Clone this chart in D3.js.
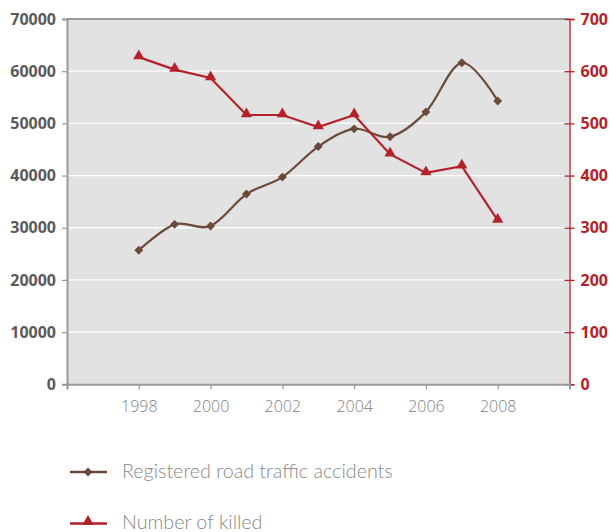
<!DOCTYPE html>
<html>
<head>
<meta charset="utf-8">
<script src="https://cdn.jsdelivr.net/npm/d3@7"></script>
<style>
  html, body { margin: 0; padding: 0; background: #fff; }
  svg { display: block; }
</style>
</head>
<body>
<svg id="chart" width="612" height="532"></svg>
<script>
// Road safety series, 1998–2008
const years = [1998, 1999, 2000, 2001, 2002, 2003, 2004, 2005, 2006, 2007, 2008];
const accidents = [25700, 30650, 30350, 36450, 39700, 45550, 48950, 47450, 52200, 61600, 54300];
const killed = [627, 603, 587, 516, 516, 493, 516, 441, 405, 418, 314];
const leftTicks = [0, 10000, 20000, 30000, 40000, 50000, 60000, 70000];
const rightTicks = [0, 100, 200, 300, 400, 500, 600, 700];
const yearTicks = [1996, 1998, 2000, 2002, 2004, 2006, 2008, 2010];
const seriesNames = ["Registered road traffic accidents", "Number of killed"];

const brown = "#6b4a3a";
const red = "#b3222b";
const svg = d3.select("#chart");

const plot = { left: 67, right: 569.5, top: 19, bottom: 384.3 };

const x = d3.scaleLinear().domain([1996, 2010]).range([plot.left, plot.right]);
const yL = d3.scaleLinear().domain([0, 70000]).range([plot.bottom, plot.top]);
const yR = d3.scaleLinear().domain([0, 700]).range([plot.bottom, plot.top]);

// plot background
svg.append("rect")
  .attr("x", plot.left).attr("y", plot.top)
  .attr("width", plot.right - plot.left).attr("height", plot.bottom - plot.top)
  .attr("fill", "#e2e2e2");

// horizontal gridlines
svg.append("g").selectAll("line")
  .data(leftTicks.filter(d => d > 0 && d < 70000))
  .join("line")
  .attr("x1", plot.left).attr("x2", plot.right)
  .attr("y1", d => yL(d)).attr("y2", d => yL(d))
  .attr("stroke", "#fff").attr("stroke-width", 1.3);

// top border
svg.append("line")
  .attr("x1", plot.left).attr("x2", plot.right)
  .attr("y1", plot.top).attr("y2", plot.top)
  .attr("stroke", "#999").attr("stroke-width", 2);

// left axis
const gL = svg.append("g").attr("transform", `translate(${plot.left},0)`)
  .call(d3.axisLeft(yL).tickValues(leftTicks).tickFormat(d3.format("d")).tickSize(5).tickPadding(6));
gL.select(".domain").attr("stroke", "#999").attr("stroke-width", 2);
gL.selectAll(".tick line").attr("stroke", "#999").attr("stroke-width", 1.2);
gL.selectAll("text")
  .attr("fill", "#5a5a5a").attr("font-family", "'Open Sans', sans-serif")
  .attr("font-weight", "bold").attr("font-size", 16);

// right axis
const gR = svg.append("g").attr("transform", `translate(${plot.right},0)`)
  .call(d3.axisRight(yR).tickValues(rightTicks).tickFormat(d3.format("d")).tickSize(5).tickPadding(6));
gR.select(".domain").attr("stroke", red).attr("stroke-width", 1.3);
gR.selectAll(".tick line").attr("stroke", red).attr("stroke-width", 1.3).attr("x1", -5);
gR.selectAll("text")
  .attr("fill", red).attr("font-family", "'Open Sans', sans-serif")
  .attr("font-weight", "bold").attr("font-size", 16);

// bottom axis
const gB = svg.append("g").attr("transform", `translate(0,${plot.bottom})`)
  .call(d3.axisBottom(x).tickValues(yearTicks).tickFormat(d3.format("d")).tickSize(5).tickPadding(11));
gB.select(".domain").attr("stroke", "#999").attr("stroke-width", 2);
gB.selectAll(".tick line").attr("stroke", "#999").attr("stroke-width", 1.2);
gB.selectAll(".tick text")
  .text(d => (d === 1996 || d === 2010) ? "" : d)
  .attr("fill", "#808080").attr("font-family", "'Open Sans', sans-serif")
  .attr("font-weight", 300).attr("font-size", 16);

// accidents line (smoothed)
const accData = years.map((yr, i) => ({ yr, v: accidents[i] }));
svg.append("path")
  .datum(accData)
  .attr("fill", "none").attr("stroke", brown).attr("stroke-width", 2.2)
  .attr("d", d3.line().x(d => x(d.yr)).y(d => yL(d.v)).curve(d3.curveCardinal.tension(0)));
// square rotated 45° gives an even diamond marker
const diamond = d3.symbol().type(d3.symbolSquare).size(40);
svg.append("g").selectAll("path")
  .data(accData).join("path")
  .attr("transform", d => `translate(${x(d.yr)},${yL(d.v)}) rotate(45)`)
  .attr("d", diamond).attr("fill", brown);

// killed line
const kData = years.map((yr, i) => ({ yr, v: killed[i] }));
svg.append("path")
  .datum(kData)
  .attr("fill", "none").attr("stroke", red).attr("stroke-width", 2.2)
  .attr("d", d3.line().x(d => x(d.yr)).y(d => yR(d.v)));
const tri = d3.symbol().type(d3.symbolTriangle).size(55);
svg.append("g").selectAll("path")
  .data(kData).join("path")
  .attr("transform", d => `translate(${x(d.yr)},${yR(d.v) - 1})`)
  .attr("d", tri).attr("fill", red);

// legend
const legend = svg.append("g");
const legendRows = [
  { name: seriesNames[0], color: brown, symbol: diamond, rot: 45, dy: 0, y: 472 },
  { name: seriesNames[1], color: red, symbol: tri, rot: 0, dy: -2, y: 523.5 }
];
legendRows.forEach(r => {
  legend.append("line")
    .attr("x1", 70).attr("x2", 107).attr("y1", r.y).attr("y2", r.y)
    .attr("stroke", r.color).attr("stroke-width", 2.4);
  legend.append("path")
    .attr("transform", `translate(88,${r.y + r.dy}) rotate(${r.rot})`)
    .attr("d", r.symbol).attr("fill", r.color);
  legend.append("text")
    .attr("x", 122).attr("y", r.y + 5.5)
    .attr("fill", "#888").attr("font-family", "Lato, 'Open Sans', sans-serif")
    .attr("font-weight", 300).attr("font-size", 19.7)
    .text(r.name);
});
</script>
</body>
</html>
